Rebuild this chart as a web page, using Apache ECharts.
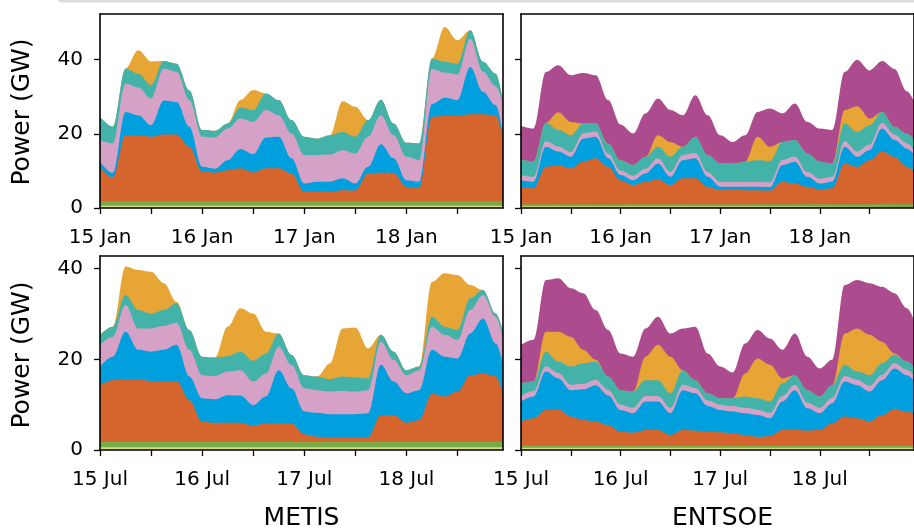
<!DOCTYPE html>
<html><head><meta charset="utf-8">
<script src="https://cdn.jsdelivr.net/npm/echarts@6/dist/echarts.min.js"></script>
<style>html,body{margin:0;padding:0;background:#fff}#c{width:914px;height:529px}</style>
</head><body><div id="c"></div>
<script>
// ---- data (GW, cumulative top of each stacked layer) ----
const hours = [0,3,6,9,12,15,18,21,24,27,30,33,36,39,42,45,48,51,54,57,60,63,66,69,72,75,78,81,84,87,90,93,95];
const edgeHours = [0, 95];
const janDayLabels = ['15 Jan','16 Jan','17 Jan','18 Jan'];
const julDayLabels = ['15 Jul','16 Jul','17 Jul','18 Jul'];
const dayTickHours = [0,24,48,72];
const minorTickHours = [0,12,24,36,48,60,72,84];
const yTickValues = [0,20,40];
const panelTitles = ['METIS','ENTSOE'];

// METIS, January
const metisJanYellowTop = [0.6, 0.6];
const metisJanGreenTop = [1.8, 1.8];
const metisJanOrangeTop = [11.0,8.2,19.6,19.6,19.2,19.8,19.8,16.5,9.8,9.6,10.2,10.7,9.6,10.7,10.7,9.3,4.4,4.4,4.4,4.8,4.7,9.3,9.5,9.5,5.7,5.3,24.6,24.8,24.9,25.3,25.3,25.0,17.0];
const metisJanBlueTop = [12.5,9.5,25.9,25.0,22.3,29.0,28.6,21.9,11.1,10.6,12.9,15.9,14.5,19.0,19.2,13.4,6.6,7.1,7.1,8.0,6.6,11.1,17.2,13.4,7.5,7.1,28.0,29.7,29.1,38.0,31.3,27.7,17.5];
const metisJanPinkTop = [18.3,17.4,33.5,32.5,29.5,37.6,36.7,29.1,19.2,19.0,21.4,24.1,23.2,26.4,25.0,20.1,14.3,14.3,14.4,15.6,14.7,19.2,25.0,19.6,13.8,12.9,37.5,36.5,36.0,45.6,36.7,32.8,26.4];
const metisJanTealTop = [24.5,21.9,37.6,36.2,33.1,39.6,38.9,31.7,21.0,20.8,22.8,27.1,26.4,30.9,29.1,23.7,19.2,18.7,19.6,20.5,19.2,23.7,29.2,22.8,17.6,17.4,40.3,39.4,38.9,47.9,39.4,36.2,26.8];
const metisJanGoldTop = [24.5,21.9,37.6,42.5,39.5,39.6,38.9,31.7,21.0,20.8,22.8,29.1,31.8,30.9,29.1,23.7,19.2,18.7,19.6,28.8,27.3,23.7,29.2,22.8,17.6,17.4,40.3,48.8,45.2,47.9,39.4,36.2,26.8];

// ENTSOE, January
const entsoeJanYellowTop = [0.5, 0.5];
const entsoeJanGreenTop = [1.0, 1.0];
const entsoeJanOrangeTop = [5.7,5.3,11.1,11.6,10.7,12.5,13.4,11.1,7.5,6.2,7.1,7.7,6.2,8.0,8.0,5.7,4.8,5.0,4.8,4.8,4.7,7.1,6.6,5.7,5.0,5.3,12.0,11.1,12.9,15.2,13.8,11.1,9.5];
const entsoeJanBlueTop = [7.5,7.1,16.5,15.2,13.8,18.7,19.2,13.4,8.9,7.5,9.3,12.0,8.4,12.9,13.4,8.4,5.7,5.7,5.7,5.7,5.6,11.6,12.5,8.4,6.6,7.1,16.5,13.8,15.6,21.4,18.3,16.0,14.0];
const entsoeJanPinkTop = [8.9,8.4,18.0,16.6,15.1,20.1,20.6,14.6,10.1,8.7,10.6,13.4,9.7,14.3,14.8,9.7,7.0,7.0,7.0,7.0,6.9,13.0,13.9,9.7,7.9,8.4,18.0,15.2,17.1,23.0,19.8,17.4,15.3];
const entsoeJanTealTop = [13.1,12.5,23.0,21.0,19.6,22.8,22.8,17.4,12.9,11.6,13.8,16.5,13.8,16.5,19.2,14.3,12.0,12.0,12.5,12.9,12.7,17.8,18.3,14.7,12.5,12.0,22.8,20.5,22.3,25.9,21.9,20.0,18.0];
const entsoeJanGoldTop = [13.1,12.5,23.0,25.8,23.2,22.8,22.8,17.4,12.9,11.6,13.8,19.6,17.8,16.5,19.2,14.3,12.0,12.0,12.5,19.2,16.5,17.8,18.3,14.7,12.5,12.0,26.4,27.4,24.1,25.9,21.9,20.0,18.0];
const entsoeJanPurpleTop = [22.1,21.4,36.7,38.5,35.8,36.4,35.8,29.1,22.5,20.1,25.5,29.5,26.4,25.0,30.4,25.0,19.6,17.8,19.6,25.9,26.8,25.5,28.2,23.2,21.4,21.0,36.7,40.0,37.1,39.6,37.5,31.5,28.0];

// METIS, July
const metisJulYellowTop = [0.6, 0.6];
const metisJulGreenTop = [1.8, 1.8];
const metisJulOrangeTop = [14.3,15.4,15.6,15.6,15.2,15.2,15.2,11.0,6.3,6.0,6.0,6.0,5.3,5.9,5.9,5.9,3.5,2.9,2.8,2.8,2.8,2.8,7.7,7.7,6.0,6.6,12.4,11.8,12.9,16.5,16.9,16.3,11.0];
const metisJulBlueTop = [18.4,20.6,26.1,22.1,21.7,22.1,23.2,16.2,11.4,11.2,12.1,12.0,9.9,11.8,17.6,13.6,8.5,8.2,7.9,7.9,7.9,8.1,18.8,15.1,12.5,13.2,22.1,20.6,20.2,25.7,29.0,23.5,17.6];
const metisJulPinkTop = [23.2,25.0,32.0,26.8,26.8,27.4,28.1,22.1,16.5,16.3,17.3,17.6,15.1,16.9,22.8,18.8,13.6,13.2,12.9,13.0,12.9,13.2,23.9,19.9,16.5,17.6,27.2,25.4,24.3,30.9,34.2,29.4,23.2];
const metisJulTealTop = [25.4,27.2,34.2,30.9,30.1,30.9,32.4,26.5,20.6,20.4,20.7,21.7,19.7,21.3,25.7,21.0,16.5,16.2,15.6,16.2,16.0,15.8,25.4,21.7,17.6,18.4,29.4,27.2,26.5,33.5,35.3,30.1,25.0];
const metisJulGoldTop = [25.4,27.2,40.5,39.7,39.3,36.8,32.7,26.5,20.6,20.4,27.2,31.3,30.1,26.1,25.7,21.0,16.5,16.2,19.1,26.8,27.0,22.4,25.4,21.7,17.6,18.4,37.1,39.0,38.6,36.4,35.3,30.1,25.0];

// ENTSOE, July
const entsoeJulYellowTop = [0.5, 0.5];
const entsoeJulGreenTop = [1.0, 1.0];
const entsoeJulOrangeTop = [6.3,7.0,8.8,9.0,7.4,6.6,6.3,5.5,4.0,3.8,4.4,4.4,3.3,4.4,4.3,4.0,3.9,3.7,3.3,2.9,3.1,4.4,4.4,4.3,4.4,5.9,7.4,7.0,6.3,7.7,9.0,8.5,8.0];
const entsoeJulBlueTop = [10.7,11.8,17.3,15.8,13.2,13.4,14.3,12.1,8.8,8.1,10.7,10.7,8.1,13.2,12.5,9.7,8.8,8.5,8.1,7.7,7.0,10.7,13.2,9.2,8.1,10.3,15.1,14.3,12.9,15.4,18.0,16.5,15.0];
const entsoeJulPinkTop = [11.9,13.0,18.5,17.0,14.4,14.6,15.5,13.3,10.0,9.3,11.9,11.9,9.3,14.4,13.7,10.9,10.0,9.7,9.3,8.9,8.2,11.9,14.4,10.4,9.3,11.5,16.3,15.5,14.1,16.6,19.2,17.7,16.2];
const entsoeJulTealTop = [14.7,15.1,21.7,19.5,18.4,19.1,19.5,16.2,13.2,12.9,15.4,15.4,12.5,17.6,15.4,12.5,11.4,11.4,11.8,11.4,10.7,14.7,16.5,13.2,11.8,14.3,18.8,17.3,16.5,19.1,21.0,19.5,18.0];
const entsoeJulGoldTop = [14.7,15.1,26.1,26.1,25.0,22.1,19.9,16.2,13.2,12.9,20.6,23.2,20.6,17.6,15.4,12.5,11.4,11.4,16.9,20.2,18.8,15.8,16.5,13.2,11.8,14.3,25.7,26.8,25.4,23.9,21.3,19.5,18.0];
const entsoeJulPurpleTop = [23.2,24.3,37.5,37.9,35.7,34.6,30.9,26.5,21.3,20.6,26.8,29.4,25.7,26.8,27.2,21.3,18.4,17.1,23.5,26.5,24.6,22.1,25.7,20.6,18.0,19.9,36.4,37.5,36.8,36.0,34.6,31.3,28.0];

// ---- styling ----
const COLORS = {purple:'#ac4c8f', gold:'#e6a534', teal:'#43b2a8', pink:'#d6a1c6', blue:'#00a0de', orange:'#d5642d', green:'#76ab46', yellow:'#d5db87'};
const FONT = 'DejaVu Sans';
const X_MAX = 94.7;
const Y_MAX = [52.3, 42.8];

const panels = [
  {grid:{left:100, top:14}, row:0, labels:janDayLabels, layers:[
    ['gold',metisJanGoldTop,hours],['teal',metisJanTealTop,hours],['pink',metisJanPinkTop,hours],['blue',metisJanBlueTop,hours],['orange',metisJanOrangeTop,hours],['green',metisJanGreenTop,edgeHours],['yellow',metisJanYellowTop,edgeHours]]},
  {grid:{left:521, top:14}, row:0, labels:janDayLabels, layers:[
    ['purple',entsoeJanPurpleTop,hours],['gold',entsoeJanGoldTop,hours],['teal',entsoeJanTealTop,hours],['pink',entsoeJanPinkTop,hours],['blue',entsoeJanBlueTop,hours],['orange',entsoeJanOrangeTop,hours],['green',entsoeJanGreenTop,edgeHours],['yellow',entsoeJanYellowTop,edgeHours]]},
  {grid:{left:100, top:256}, row:1, labels:julDayLabels, layers:[
    ['gold',metisJulGoldTop,hours],['teal',metisJulTealTop,hours],['pink',metisJulPinkTop,hours],['blue',metisJulBlueTop,hours],['orange',metisJulOrangeTop,hours],['green',metisJulGreenTop,edgeHours],['yellow',metisJulYellowTop,edgeHours]]},
  {grid:{left:521, top:256}, row:1, labels:julDayLabels, layers:[
    ['purple',entsoeJulPurpleTop,hours],['gold',entsoeJulGoldTop,hours],['teal',entsoeJulTealTop,hours],['pink',entsoeJulPinkTop,hours],['blue',entsoeJulBlueTop,hours],['orange',entsoeJulOrangeTop,hours],['green',entsoeJulGreenTop,edgeHours],['yellow',entsoeJulYellowTop,edgeHours]]}
];

const grid = [], xAxis = [], yAxis = [], series = [];
const spine = {show:true, onZero:false, lineStyle:{color:'#000', width:1.6}};
panels.forEach((p, i) => {
  grid.push({left:p.grid.left, top:p.grid.top, width:403, height:194, containLabel:false});
  const labelMap = {};
  dayTickHours.forEach((h, j) => labelMap[h] = p.labels[j]);
  xAxis.push({type:'value', gridIndex:i, min:0, max:X_MAX, interval:12, z:10,
    axisLine:spine, splitLine:{show:false},
    axisTick:{show:true, length:6, lineStyle:{color:'#000', width:1.3}, customValues:minorTickHours},
    axisLabel:{show:true, margin:20, color:'#000', fontFamily:FONT, fontSize:20, customValues:dayTickHours,
      formatter:(v)=> (labelMap[v] !== undefined ? labelMap[v] : '')}});
  xAxis.push({type:'value', gridIndex:i, position:'top', min:0, max:X_MAX, z:10,
    axisLine:spine, axisTick:{show:false}, axisLabel:{show:false}, splitLine:{show:false}});
  yAxis.push({type:'value', gridIndex:i, min:0, max:Y_MAX[p.row], interval:20, z:10,
    axisLine:spine, splitLine:{show:false},
    axisTick:{show:true, length:6, lineStyle:{color:'#000', width:1.3}, customValues:yTickValues},
    axisLabel:{show:(i % 2 === 0), margin:17, color:'#000', fontFamily:FONT, fontSize:20, customValues:yTickValues,
      formatter:(v)=> (yTickValues.indexOf(v) >= 0 ? String(v) : '')}});
  yAxis.push({type:'value', gridIndex:i, position:'right', min:0, max:Y_MAX[p.row], z:10,
    axisLine:spine, axisTick:{show:false}, axisLabel:{show:false}, splitLine:{show:false}});
  p.layers.forEach(([name, vals, xs]) => {
    series.push({type:'line', xAxisIndex:2*i, yAxisIndex:2*i, name:name,
      data: xs.map((h, k) => [h, vals[k]]),
      symbol:'none', smooth:0.35, smoothMonotone:'x', silent:true, clip:true,
      lineStyle:{width:0, color:COLORS[name]},
      areaStyle:{color:COLORS[name], opacity:1},
      emphasis:{disabled:true}});
  });
});

const graphic = [
  {type:'rect', shape:{x:58, y:-10, width:900, height:12.5, r:4}, style:{fill:'#dcdcdc'}, z:100},
  {type:'text', x:22, y:112, rotation:Math.PI/2, style:{text:'Power (GW)', fontFamily:FONT, fontSize:25, fill:'#000', align:'center', verticalAlign:'middle'}},
  {type:'text', x:22, y:355, rotation:Math.PI/2, style:{text:'Power (GW)', fontFamily:FONT, fontSize:25, fill:'#000', align:'center', verticalAlign:'middle'}},
  {type:'text', x:301.5, y:506, style:{text:panelTitles[0], fontFamily:FONT, fontSize:25, fill:'#000', align:'center', verticalAlign:'top'}},
  {type:'text', x:722.5, y:506, style:{text:panelTitles[1], fontFamily:FONT, fontSize:25, fill:'#000', align:'center', verticalAlign:'top'}}
];

const chart = echarts.init(document.getElementById('c'), null, {renderer:'canvas'});
chart.setOption({animation:false, backgroundColor:'#fff', grid, xAxis, yAxis, series, graphic, tooltip:{show:false}});
</script>
</body></html>
